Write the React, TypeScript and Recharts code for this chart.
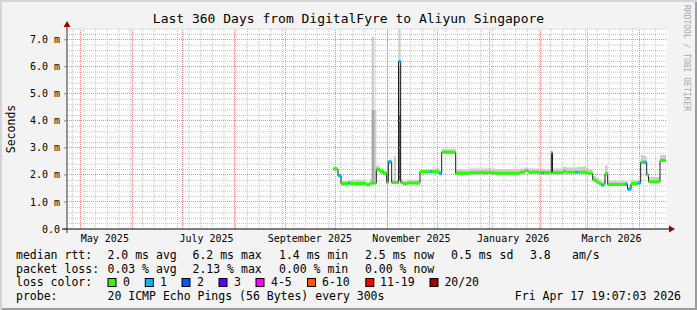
import React from "react";
import { ComposedChart, Line, Area, XAxis, YAxis, CartesianGrid, ReferenceDot, ReferenceLine } from "recharts";

const FONT = "'DejaVu Sans Mono', 'Liberation Mono', monospace";

// 360-day window ending Fri Apr 17 2026 19:07:03
const WINDOW_START = Date.UTC(2025, 3, 22, 19, 7, 3);
const WINDOW_DAYS = 360;
const dayOf = (y: number, m: number, d: number, h = 0) => (Date.UTC(y, m - 1, d, h) - WINDOW_START) / 86400000;

// median RTT runs (day offset into the window where each run starts)
const runDay = [
  159.8, 162.6, 164.4, 168.8, 169.8, 179.4, 181.8, 182.8, 184.4, 185.6,
  187.8, 189.8, 191.8, 192.8, 194.8, 196.2, 197.4, 198.9, 200.2, 201.6,
  204.0, 211.8, 217.8, 219.0, 223.2, 224.8, 233.2, 241.8, 256.8, 271.8,
  274.8, 276.6, 283.2, 284.8, 285.9, 290.6, 291.3, 297.6, 299.4, 304.8,
  306.6, 311.8, 315.4, 317.4, 319.2, 320.4, 322.2, 322.8, 324.4, 334.8,
  336.3, 338.4, 342.6, 344.2, 345.8, 347.8, 348.9, 355.8,
];
const lastDay = 359.4;
const runMedian = [
  2.22, 1.97, 1.68, 1.70, 1.68, 1.64, 1.70, 1.70, 1.70, 2.20,
  2.13, 2.06, 1.72, 2.49, 1.72, 1.72, 1.72, 6.20, 1.72, 1.67,
  1.70, 2.12, 2.12, 2.12, 2.05, 2.84, 2.06, 2.08, 2.06, 2.10,
  2.16, 2.10, 2.08, 2.08, 2.08, 2.84, 2.08, 2.14, 2.10, 2.10,
  2.10, 2.06, 1.81, 1.74, 1.68, 1.63, 1.65, 2.05, 1.65, 1.66,
  1.47, 1.68, 1.70, 2.47, 2.47, 2.00, 1.75, 2.53,
];
// lost pings (of 20)
const runLoss = [
  0, 1, 0, 1, 0, 0, 0, 0, 0, 0,
  0, 0, 0, 1, 0, 0, 0, 1, 0, 0,
  0, 0, 1, 0, 1, 0, 0, 0, 0, 0,
  0, 0, 0, 1, 0, 0, 0, 0, 0, 1,
  0, 0, 0, 0, 0, 1, 0, 0, 0, 1,
  1, 0, 1, 0, 1, 0, 0, 0,
];
const runSmokeLo = [
  2.18, 1.93, 1.64, 1.65, 1.64, 1.60, 1.66, 1.66, 1.66, 2.15,
  2.08, 2.02, 1.68, 2.40, 1.68, 1.68, 1.68, 1.80, 1.68, 1.64,
  1.66, 2.08, 2.08, 2.08, 2.01, 2.78, 2.02, 2.04, 2.02, 2.06,
  2.12, 2.06, 2.04, 2.04, 2.04, 2.10, 2.04, 2.10, 2.06, 2.06,
  2.06, 2.02, 1.76, 1.70, 1.64, 1.58, 1.60, 1.95, 1.60, 1.62,
  1.42, 1.64, 1.66, 2.40, 2.40, 1.95, 1.70, 2.47,
];
const runSmokeHi = [
  2.30, 2.05, 1.78, 1.80, 1.82, 1.74, 1.86, 7.10, 4.40, 2.34,
  2.24, 2.16, 1.84, 2.56, 1.82, 2.70, 1.82, 7.43, 1.84, 1.78,
  1.82, 2.22, 2.22, 2.24, 2.16, 2.97, 2.20, 2.24, 2.22, 2.24,
  2.28, 2.24, 2.22, 2.22, 2.22, 2.84, 2.24, 2.30, 2.28, 2.28,
  2.30, 2.22, 1.96, 1.90, 1.82, 1.76, 1.80, 2.35, 1.78, 1.78,
  1.58, 1.80, 1.82, 2.74, 2.70, 2.12, 1.92, 2.74,
];
const runSmokeMid: (number | null)[] = runDay.map(() => null);
runSmokeMid[7] = 4.4;
runSmokeMid[17] = 6.0;
const runSmokeDark: (number | null)[] = runDay.map(() => null);
runSmokeDark[17] = 4.2;

const yTicks = [0, 1, 2, 3, 4, 5, 6, 7];
const yMax = 7.4;

const labelMonths: [number, number][] = [[2025, 5], [2025, 7], [2025, 9], [2025, 11], [2026, 1], [2026, 3]];
const labelTexts = ["May 2025", "July 2025", "September 2025", "November 2025", "January 2026", "March 2026"];
const monthStarts: [number, number][] = [
  [2025, 5], [2025, 6], [2025, 7], [2025, 8], [2025, 9], [2025, 10],
  [2025, 11], [2025, 12], [2026, 1], [2026, 2], [2026, 3], [2026, 4],
];

const lossBucketMax = [0, 1, 2, 3, 5, 10, 19, 20];
const lossColors = ["#26ff00", "#00b8ff", "#0059ff", "#5e00ff", "#ff00ff", "#ff5500", "#ff0000", "#a10000"];
const lossLabels = ["0", "1", "2", "3", "4-5", "6-10", "11-19", "20/20"];

const statsRtt = ["2.0 ms avg", "6.2 ms max", "1.4 ms min", "2.5 ms now", "0.5 ms sd", "3.8", "am/s"];
const statsLoss = ["0.03 % avg", "2.13 % max", "0.00 % min", "0.00 % now"];

// ---------- derived ----------
const bucketOf = (loss: number) => lossBucketMax.findIndex((m) => loss <= m);

type Pt = { day: number; brk?: boolean; median?: number; lo?: number; hi?: number; mid?: number | null; dark?: number | null; bucket?: number };
const points: Pt[] = [];
runDay.forEach((s, i) => {
  const e = i + 1 < runDay.length ? runDay[i + 1] : lastDay;
  const base = {
    median: runMedian[i], lo: runSmokeLo[i], hi: runSmokeHi[i],
    mid: runSmokeMid[i], dark: runSmokeDark[i], bucket: bucketOf(runLoss[i]),
  };
  points.push({ day: s, ...base }, { day: e, ...base }, { day: e, brk: true });
});
const usedBuckets = Array.from(new Set(runLoss.map(bucketOf))).sort();

const labelDays = labelMonths.map(([y, m]) => dayOf(y, m, 15, 12));
const monthDays = monthStarts.map(([y, m]) => dayOf(y, m, 1));
const weekDays: number[] = [];
for (let d = dayOf(2025, 4, 26); d < WINDOW_DAYS; d += 7) weekDays.push(d);
const yMinor: number[] = [];
for (let k = 1; k * 0.2 <= yMax + 1e-9; k++) if (k % 5 !== 0) yMinor.push(Math.round(k * 2) / 10);
const yMajor = yTicks.filter((v) => v > 0);

const MAJOR = "#f08a8a";

const XArrow = (p: any) => (
  <g>
    <line x1={p.cx} y1={p.cy} x2={p.cx + 3} y2={p.cy} stroke="#000" />
    <path d={`M${p.cx + 2},${p.cy - 3.5} L${p.cx + 8},${p.cy} L${p.cx + 2},${p.cy + 3.5} Z`} fill="#a00000" />
  </g>
);
const YArrow = (p: any) => (
  <g>
    <line x1={p.cx} y1={p.cy} x2={p.cx} y2={p.cy - 3} stroke="#333" />
    <path d={`M${p.cx - 3.5},${p.cy - 2} L${p.cx},${p.cy - 8} L${p.cx + 3.5},${p.cy - 2} Z`} fill="#a00000" />
  </g>
);
const Origin = (p: any) => (
  <g>
    <line x1={p.cx - 5} y1={p.cy} x2={p.cx} y2={p.cy} stroke="#000" />
    <line x1={p.cx} y1={p.cy} x2={p.cx} y2={p.cy + 4} stroke="#333" />
  </g>
);

const txt = { fontFamily: FONT, fontSize: 11.5, fill: "#000" } as const;
const rttX = [107.5, 192.5, 279, 365, 451, 530, 572];
const lossX = [107.5, 192.5, 279, 365];
const boxX = [108, 145.3, 182, 219, 256, 307.5, 365.8, 430];
const boxLabelX = [123, 160, 197, 234, 271, 322, 380, 444.4];

export default function App() {
  return (
    <div
      style={{
        position: "fixed", left: 0, top: 0, width: 697, height: 310, background: "#f3f3f3",
        boxShadow: "inset 2px 2px 0 #d4d4d4, inset -2px -2px 0 #9c9c9c", overflow: "hidden",
      }}
    >
      <ComposedChart width={697} height={310} data={points} margin={{ top: 29, right: 30, bottom: 61, left: 0 }}>
        <CartesianGrid
          fill="#ffffff" stroke="#c4c4c4" strokeDasharray="1 1"
          horizontalValues={yMinor} verticalValues={weekDays}
        />
        <XAxis
          dataKey="day" type="number" domain={[0, WINDOW_DAYS]} ticks={labelDays} interval={0}
          tickFormatter={(_v: number, i: number) => labelTexts[i]} allowDataOverflow
          tickLine={false} tickSize={4} tickMargin={2} height={20} axisLine={{ stroke: "#000" }}
          tick={{ fontSize: 10, fill: "#000", fontFamily: FONT }}
        />
        <YAxis
          type="number" domain={[0, yMax]} ticks={yTicks} interval={0} allowDataOverflow width={67}
          tickFormatter={(v: number) => (v === 0 ? "0.0" : `${v.toFixed(1)} m`)}
          tickSize={3} tickMargin={4} tickLine={{ stroke: "#888" }} axisLine={{ stroke: "#333" }}
          tick={{ fontSize: 10, fill: "#000", fontFamily: FONT }}
        />
        {yMajor.map((v) => (
          <ReferenceLine
            key={`y${v}`}
            segment={[{ x: 0, y: v }, { x: WINDOW_DAYS, y: v }]}
            stroke={MAJOR} strokeDasharray="1 1" strokeWidth={1} shapeRendering="crispEdges"
          />
        ))}
        {monthDays.map((d) => (
          <ReferenceLine key={`x${d}`} x={d} stroke={MAJOR} strokeDasharray="1 1" strokeWidth={1} shapeRendering="crispEdges" />
        ))}
        <Area dataKey={(p: Pt) => (p.brk ? null : [p.lo, p.hi])} type="linear" stroke="none" fill="#cdcdcd" fillOpacity={1} isAnimationActive={false} dot={false} activeDot={false} />
        <Area dataKey={(p: Pt) => (p.brk || p.mid == null ? null : [p.lo, p.mid])} type="linear" stroke="none" fill="#a8a8a8" fillOpacity={1} isAnimationActive={false} dot={false} activeDot={false} />
        <Area dataKey={(p: Pt) => (p.brk || p.dark == null ? null : [p.lo, p.dark])} type="linear" stroke="none" fill="#5a5a5a" fillOpacity={1} isAnimationActive={false} dot={false} activeDot={false} />
        <Line dataKey="median" type="linear" stroke="#202020" strokeWidth={1} dot={false} activeDot={false} connectNulls isAnimationActive={false} />
        {usedBuckets.map((b) => (
          <Line
            key={b}
            dataKey={(p: Pt) => (p.brk || p.bucket !== b ? null : p.median)}
            type="linear" stroke={lossColors[b]} strokeWidth={3} dot={false} activeDot={false}
            isAnimationActive={false}
          />
        ))}
        <ReferenceDot x={0} y={0} ifOverflow="visible" shape={Origin} />
        <ReferenceDot x={WINDOW_DAYS} y={0} ifOverflow="visible" shape={XArrow} />
        <ReferenceDot x={0} y={yMax} ifOverflow="visible" shape={YArrow} />
      </ComposedChart>
      <svg width={697} height={310} style={{ position: "absolute", left: 0, top: 0, pointerEvents: "none" }}>
        <text x={348.5} y={23} textAnchor="middle" fontFamily={FONT} fontSize={13} fill="#000">
          Last 360 Days from DigitalFyre to Aliyun Singapore
        </text>
        <text transform="translate(15,129) rotate(-90)" textAnchor="middle" fontFamily={FONT} fontSize={11.5} fill="#000">
          Seconds
        </text>
        <text transform="translate(684,5) rotate(90)" fontFamily={FONT} fontSize={8} fill="#a8a8a8">
          RRDTOOL / TOBI OETIKER
        </text>

        <text x={16} y={259} {...txt}>median rtt:</text>
        {statsRtt.map((s, i) => (
          <text key={s + i} x={rttX[i]} y={259} {...txt}>{s}</text>
        ))}
        <text x={16} y={273} {...txt}>packet loss:</text>
        {statsLoss.map((s, i) => (
          <text key={s + i} x={lossX[i]} y={273} {...txt}>{s}</text>
        ))}
        <text x={16} y={286} {...txt}>loss color:</text>
        {lossLabels.map((l, i) => (
          <g key={l}>
            <rect x={boxX[i]} y={278.5} width={8} height={8} fill={lossColors[i]} stroke="#000" strokeWidth={1} />
            <text x={boxLabelX[i]} y={286} {...txt}>{l}</text>
          </g>
        ))}
        <text x={16} y={300} {...txt}>probe:</text>
        <text x={107.5} y={300} {...txt}>20 ICMP Echo Pings (56 Bytes) every 300s</text>
        <text x={681} y={300} textAnchor="end" {...txt}>Fri Apr 17 19:07:03 2026</text>
      </svg>
    </div>
  );
}
